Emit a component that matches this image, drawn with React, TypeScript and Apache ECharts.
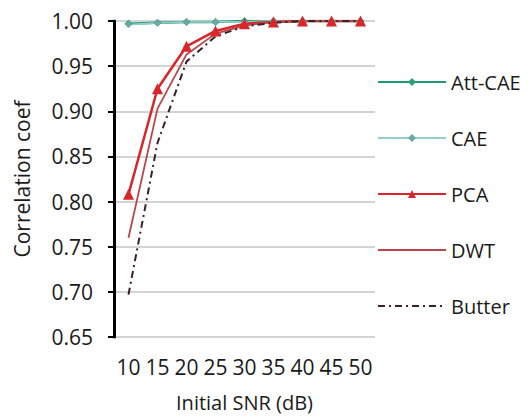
import React, { useEffect, useRef } from "react";
import * as echarts from "echarts";

const categories = ["10", "15", "20", "25", "30", "35", "40", "45", "50"];
const attCae = [0.997, 0.998, 0.999, 0.999, 1.0, 1.0, 1.0, 1.0, 1.0];
const cae = [0.996, 0.998, 0.999, 0.999, 0.999, 1.0, 1.0, 1.0, 1.0];
const pca = [0.808, 0.925, 0.972, 0.989, 0.997, 0.999, 1.0, 1.0, 1.0];
const dwt = [0.76, 0.903, 0.963, 0.986, 0.995, 0.999, 1.0, 1.0, 1.0];
const butter = [0.697, 0.865, 0.955, 0.983, 0.994, 0.998, 1.0, 1.0, 1.0];
const legendNames = ["Att-CAE", "CAE", "PCA", "DWT", "Butter"];

const FONT = "Open Sans";

export default function App() {
  const ref = useRef<HTMLDivElement>(null);
  useEffect(() => {
    if (!ref.current) return;
    const chart = echarts.init(ref.current, undefined, { renderer: "svg" });
    chart.setOption({
      animation: false,
      backgroundColor: "#ffffff",
      textStyle: { fontFamily: FONT },
      grid: { left: 114, right: 157, top: 21, bottom: 75, containLabel: false },
      legend: {
        orient: "vertical",
        left: 372,
        top: 66,
        itemWidth: 68,
        itemHeight: 10,
        itemGap: 34,
        textStyle: { fontFamily: FONT, fontSize: 20, color: "#1a1a1a", lineHeight: 22 },
        data: legendNames.map((n) =>
          n === "DWT" || n === "Butter" ? { name: n, itemStyle: { opacity: 0 } } : { name: n }
        ),
      },
      xAxis: {
        type: "category",
        data: categories,
        boundaryGap: true,
        name: "Initial SNR (dB)",
        nameLocation: "middle",
        nameGap: 55,
        nameTextStyle: { fontFamily: FONT, fontSize: 20, color: "#1a1a1a" },
        axisLine: { show: false },
        axisTick: { show: false },
        axisLabel: { margin: 19, fontFamily: FONT, fontSize: 21, color: "#1a1a1a", interval: 0 },
        splitLine: { show: false },
      },
      yAxis: {
        type: "value",
        min: 0.65,
        max: 1.0,
        interval: 0.05,
        name: "Correlation coef",
        nameLocation: "middle",
        nameGap: 82,
        nameTextStyle: { fontFamily: FONT, fontSize: 21, color: "#1a1a1a" },
        axisLine: { show: true, lineStyle: { color: "#000000", width: 3 } },
        axisTick: { show: true, length: 6, lineStyle: { color: "#000000", width: 2 } },
        axisLabel: {
          margin: 21,
          fontFamily: FONT,
          fontSize: 21,
          color: "#1a1a1a",
          formatter: (v: number) => v.toFixed(2),
        },
        splitLine: { show: true, lineStyle: { color: "#d4d4d4", width: 2 } },
      },
      series: [
        {
          name: "Att-CAE",
          type: "line",
          data: attCae,
          symbol: "diamond",
          symbolSize: 8,
          lineStyle: { color: "#1f9a6e", width: 2.5 },
          itemStyle: { color: "#2aa17a" },
        },
        {
          name: "CAE",
          type: "line",
          data: cae,
          symbol: "diamond",
          symbolSize: 7,
          lineStyle: { color: "#92cdcb", width: 1.8 },
          itemStyle: { color: "#6fa8a8" },
        },
        {
          name: "PCA",
          type: "line",
          data: pca,
          symbol: "triangle",
          symbolSize: 11,
          lineStyle: { color: "#d9262a", width: 2.5 },
          itemStyle: { color: "#d9262a" },
        },
        {
          name: "DWT",
          type: "line",
          data: dwt,
          symbol: "none",
          lineStyle: { color: "#b9474a", width: 1.8 },
          itemStyle: { color: "#b9474a" },
        },
        {
          name: "Butter",
          type: "line",
          data: butter,
          symbol: "none",
          lineStyle: { color: "#3a1f2c", width: 2, type: [7, 4, 2, 4] },
          itemStyle: { color: "#3a1f2c" },
        },
      ],
    });
    return () => chart.dispose();
  }, []);
  return (
    <div
      ref={ref}
      style={{ position: "fixed", left: 0, top: 0, width: 532, height: 417 }}
    />
  );
}
